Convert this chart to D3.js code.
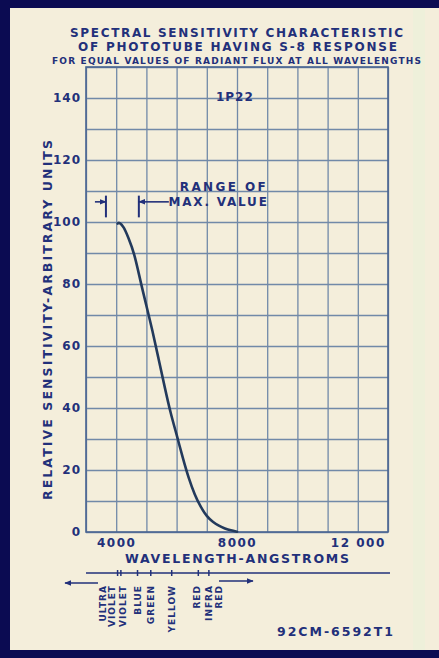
<!DOCTYPE html>
<html>
<head>
<meta charset="utf-8">
<script src="https://cdn.jsdelivr.net/npm/d3@7"></script>
<style>
  body { margin: 0; background: #0b0b52; }
  svg { display: block; }
  text { font-family: "DejaVu Sans", sans-serif; font-weight: bold; fill: #22307a; }
</style>
</head>
<body>
<div id="chart"></div>
<script>
const WIDTH = 439, HEIGHT = 658;
const MARGIN = {top: 67, right: 51, bottom: 126, left: 86};
const INNER_WIDTH = WIDTH - MARGIN.left - MARGIN.right;
const INNER_HEIGHT = HEIGHT - MARGIN.top - MARGIN.bottom;

// Curve (wavelength in angstroms, relative sensitivity)
const wavelength = [4050, 4100, 4250, 4400, 4600, 4800, 5000, 5200, 5400, 5600, 5800, 6000, 6200, 6400, 6600, 6800, 7000, 7200, 7400, 7600, 7800, 8000];
const sensitivity = [99.5, 100, 98.5, 95, 90, 81, 73, 65, 56, 47, 38.3, 31.5, 24, 17.3, 12, 8, 5, 3.2, 2, 1.1, 0.5, 0.1];

const yTicks = [0, 20, 40, 60, 80, 100, 120, 140];
const xTicks = [4000, 8000, 12000];
const maxRange = [3660, 4750];

// Colour band strip under the axis
const bandTicks = [4046, 4155, 4706, 5145, 5838, 6719, 7069];
const bandLabels = ["ULTRA", "VIOLET", "VIOLET", "BLUE", "GREEN", "YELLOW", "RED", "INFRA", "RED"];
const bandLabelAt = [3551, 3848, 4211, 4726, 5145, 5838, 6686, 7069, 7399];

const INK = "#22307a";
const GRID = "#7189a8";

const svg = d3.select("#chart")
    .append("svg")
    .attr("width", WIDTH)
    .attr("height", HEIGHT);

// paper + scanned border
svg.append("rect").attr("width", WIDTH).attr("height", HEIGHT).attr("fill", "#0b0b52");
svg.append("rect")
    .attr("x", 10).attr("y", 8)
    .attr("width", WIDTH - 10).attr("height", 642)
    .attr("fill", "#f4eedb");
svg.append("rect")
    .attr("x", 413).attr("y", 8)
    .attr("width", 12).attr("height", 642)
    .attr("fill", "#eef0da");

const defs = svg.append("defs");
defs.append("marker")
    .attr("id", "head")
    .attr("viewBox", "0 0 10 10")
    .attr("refX", 9).attr("refY", 5)
    .attr("markerWidth", 7).attr("markerHeight", 7)
    .attr("markerUnits", "userSpaceOnUse")
    .attr("orient", "auto")
    .append("path")
    .attr("d", "M0,1 L10,5 L0,9 Z")
    .attr("fill", INK);

// titles
const titles = [
    {text: "SPECTRAL SENSITIVITY CHARACTERISTIC", x: 70, w: 333, y: 37, size: 12},
    {text: "OF PHOTOTUBE HAVING S-8 RESPONSE", x: 78, w: 319, y: 51, size: 12},
    {text: "FOR EQUAL VALUES OF RADIANT FLUX AT ALL WAVELENGTHS", x: 52, w: 369, y: 64, size: 9}
];
svg.selectAll(".title")
    .data(titles)
    .join("text")
    .attr("class", "title")
    .attr("x", d => d.x)
    .attr("y", d => d.y)
    .attr("textLength", d => d.w)
    .attr("lengthAdjust", "spacing")
    .style("font-size", d => d.size + "px")
    .text(d => d.text);

const innerChart = svg.append("g")
    .attr("transform", `translate(${MARGIN.left}, ${MARGIN.top})`);

const xScale = d3.scaleLinear()
    .domain([3000, 13000])
    .range([0, INNER_WIDTH]);

const yScale = d3.scaleLinear()
    .domain([0, 150])
    .range([INNER_HEIGHT, 0]);

// grid every 1000 A and 10 units
innerChart.append("g")
    .call(d3.axisBottom(xScale).ticks(10).tickSize(INNER_HEIGHT).tickFormat(""))
    .call(g => g.select(".domain").remove())
    .selectAll("line").attr("stroke", GRID).attr("stroke-width", 1.3);

innerChart.append("g")
    .call(d3.axisLeft(yScale).ticks(15).tickSize(-INNER_WIDTH).tickFormat(""))
    .call(g => g.select(".domain").remove())
    .selectAll("line").attr("stroke", GRID).attr("stroke-width", 1.3);

innerChart.append("rect")
    .attr("width", INNER_WIDTH).attr("height", INNER_HEIGHT)
    .attr("fill", "none")
    .attr("stroke", "#4a6592")
    .attr("stroke-width", 1.6);

// tick labels
innerChart.append("g")
    .call(d3.axisLeft(yScale).tickValues(yTicks).tickSize(0).tickPadding(5))
    .call(g => g.select(".domain").remove())
    .selectAll("text")
    .style("font-size", "12px")
    .attr("letter-spacing", "1px")
    .style("font-family", "'DejaVu Sans', sans-serif")
    .attr("fill", INK);

innerChart.append("g")
    .attr("transform", `translate(0,${INNER_HEIGHT})`)
    .call(d3.axisBottom(xScale).tickValues(xTicks).tickSize(0).tickPadding(6)
        .tickFormat(d => d >= 10000 ? d3.format(",")(d).replace(",", " ") : d))
    .call(g => g.select(".domain").remove())
    .selectAll("text")
    .style("font-size", "12px")
    .attr("letter-spacing", "1.5px")
    .style("font-family", "'DejaVu Sans', sans-serif")
    .attr("fill", INK);

innerChart.append("text")
    .text("WAVELENGTH-ANGSTROMS")
    .attr("x", 125 - MARGIN.left)
    .attr("y", INNER_HEIGHT + 31)
    .attr("textLength", 224)
    .attr("lengthAdjust", "spacing")
    .style("font-size", "12.5px");

innerChart.append("text")
    .text("RELATIVE SENSITIVITY-ARBITRARY UNITS")
    .attr("transform", `translate(${52 - MARGIN.left}, ${500 - MARGIN.top}) rotate(-90)`)
    .attr("textLength", 360)
    .attr("lengthAdjust", "spacing")
    .style("font-size", "12.5px");

// the response curve
const lineGenerator = d3.line()
    .curve(d3.curveBasis)
    .x(d => xScale(d[0]))
    .y(d => yScale(d[1]));

innerChart.append("path")
    .attr("d", lineGenerator(d3.zip(wavelength, sensitivity)))
    .attr("fill", "none")
    .attr("stroke", "#233a5c")
    .attr("stroke-width", 2.6)
    .attr("stroke-linecap", "round");

// tube type
innerChart.append("text")
    .text("1P22")
    .attr("x", xScale(7930))
    .attr("y", yScale(140.3))
    .attr("text-anchor", "middle")
    .attr("dominant-baseline", "central")
    .attr("letter-spacing", "1px")
    .style("font-size", "12px");

// range of maximum value marker
const rangeG = innerChart.append("g").attr("stroke", INK).attr("stroke-width", 1.6);
rangeG.selectAll(".bar")
    .data(maxRange)
    .join("line")
    .attr("x1", d => xScale(d)).attr("x2", d => xScale(d))
    .attr("y1", yScale(108.5)).attr("y2", yScale(101.5))
    .attr("stroke-width", 2);
rangeG.append("line")
    .attr("x1", xScale(maxRange[0]) - 11).attr("x2", xScale(maxRange[0]))
    .attr("y1", yScale(106.5)).attr("y2", yScale(106.5))
    .attr("marker-end", "url(#head)");
rangeG.append("line")
    .attr("x1", xScale(maxRange[1]) + 30).attr("x2", xScale(maxRange[1]))
    .attr("y1", yScale(106.5)).attr("y2", yScale(106.5))
    .attr("marker-end", "url(#head)");

innerChart.selectAll(".range-label")
    .data(["RANGE OF", "MAX. VALUE"])
    .join("text")
    .attr("x", (d, i) => i ? xScale(7390) : xScale(7570))
    .attr("y", (d, i) => yScale(i ? 106.5 : 111.3))
    .attr("text-anchor", "middle")
    .attr("dominant-baseline", "central")
    .attr("letter-spacing", (d, i) => i ? "1.8px" : "2.4px")
    .style("font-size", "12px")
    .text(d => d);

// colour band strip
const BAND_Y = INNER_HEIGHT + 41;
innerChart.append("line")
    .attr("x1", 0).attr("x2", INNER_WIDTH + 2)
    .attr("y1", BAND_Y).attr("y2", BAND_Y)
    .attr("stroke", INK).attr("stroke-width", 1.5);

innerChart.selectAll(".band-tick")
    .data(bandTicks)
    .join("line")
    .attr("x1", d => xScale(d)).attr("x2", d => xScale(d))
    .attr("y1", BAND_Y - 3).attr("y2", BAND_Y + 3)
    .attr("stroke", INK).attr("stroke-width", 1.5);

innerChart.append("line")
    .attr("x1", xScale(3397)).attr("x2", xScale(2305))
    .attr("y1", BAND_Y + 10).attr("y2", BAND_Y + 10)
    .attr("stroke", INK).attr("stroke-width", 1.5)
    .attr("marker-end", "url(#head)");
innerChart.append("line")
    .attr("x1", xScale(7404)).attr("x2", xScale(8530))
    .attr("y1", BAND_Y + 8).attr("y2", BAND_Y + 8)
    .attr("stroke", INK).attr("stroke-width", 1.5)
    .attr("marker-end", "url(#head)");

innerChart.selectAll(".band-label")
    .data(bandLabels)
    .join("text")
    .attr("transform", (d, i) => `translate(${xScale(bandLabelAt[i])}, ${BAND_Y + 12}) rotate(-90)`)
    .attr("text-anchor", "end")
    .attr("dominant-baseline", "central")
    .attr("letter-spacing", "1px")
    .style("font-size", "9px")
    .text(d => d);

// drawing number
svg.append("text")
    .text("92CM-6592T1")
    .attr("x", 277)
    .attr("y", 636)
    .attr("textLength", 116)
    .attr("lengthAdjust", "spacing")
    .style("font-size", "12.5px");
</script>
</body>
</html>
